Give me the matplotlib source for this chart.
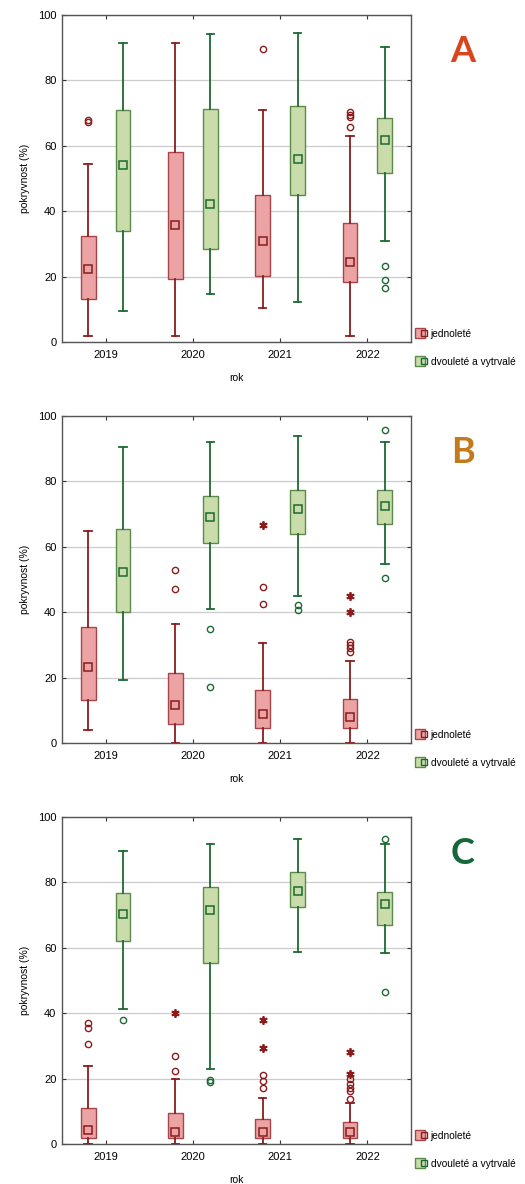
import matplotlib
matplotlib.use("Agg")
import matplotlib.pyplot as plt
from matplotlib.lines import Line2D
from matplotlib.legend_handler import HandlerTuple

plt.rcParams['font.family'] = ['Liberation Sans', 'DejaVu Sans']

years = ['2019', '2020', '2021', '2022']
groups = ['jednoleté', 'dvouleté a vytrvalé']
panels = ['A', 'B', 'C']
panel_colors = {'A': '#d9461e', 'B': '#c27a1c', 'C': '#16683a'}

# per panel, per group: whisker low, q1, median, q3, whisker high (one value per year)
stats = {
    'A': {
        'jednoleté': dict(lo=[1.8, 1.8, 10.4, 1.8], q1=[13.2, 19.2, 20.1, 18.5],
                          med=[22.3, 35.7, 30.8, 24.6], q3=[32.3, 58.2, 45.0, 36.5],
                          hi=[54.4, 91.3, 70.9, 63.1]),
        'dvouleté a vytrvalé': dict(lo=[9.4, 14.8, 12.1, 30.9], q1=[33.8, 28.3, 45.0, 51.8],
                                    med=[54.1, 42.1, 56.1, 61.7], q3=[70.8, 71.4, 72.2, 68.6],
                                    hi=[91.5, 94.2, 94.4, 90.1]),
    },
    'B': {
        'jednoleté': dict(lo=[3.9, 0.0, 0.0, 0.0], q1=[13.0, 5.8, 4.7, 4.7],
                          med=[23.2, 11.6, 8.9, 8.0], q3=[35.5, 21.4, 16.2, 13.6],
                          hi=[64.7, 36.3, 30.6, 25.0]),
        'dvouleté a vytrvalé': dict(lo=[19.3, 41.0, 44.9, 54.8], q1=[40.1, 61.1, 63.8, 66.9],
                                    med=[52.2, 69.0, 71.6, 72.6], q3=[65.5, 75.4, 77.5, 77.4],
                                    hi=[90.5, 92.2, 93.8, 92.2]),
    },
    'C': {
        'jednoleté': dict(lo=[0.0, 0.0, 0.0, 0.0], q1=[1.7, 1.7, 1.7, 1.7],
                          med=[4.3, 3.8, 3.8, 3.8], q3=[11.1, 9.5, 7.7, 6.6],
                          hi=[24.0, 19.8, 14.1, 12.4]),
        'dvouleté a vytrvalé': dict(lo=[41.4, 23.0, 58.6, 58.3], q1=[62.2, 55.5, 72.5, 67.0],
                                    med=[70.4, 71.6, 77.3, 73.4], q3=[76.8, 78.7, 83.1, 77.0],
                                    hi=[89.7, 91.6, 93.2, 91.8]),
    },
}

# outliers (circles) per year
outliers = {
    'A': {'jednoleté': [[68.0, 67.4], [], [89.6], [70.2, 69.4, 68.9, 65.8]],
          'dvouleté a vytrvalé': [[], [], [], [23.1, 19.1, 16.4]]},
    'B': {'jednoleté': [[], [52.9, 47.1], [47.6, 42.6], [31.0, 30.1, 29.1, 27.9]],
          'dvouleté a vytrvalé': [[], [34.8, 17.1], [42.3, 40.7], [95.7, 50.4]]},
    'C': {'jednoleté': [[36.9, 35.5, 30.7], [26.8, 22.2], [21.1, 19.3, 17.2],
                        [19.8, 18.3, 17.2, 16.3, 13.7]],
          'dvouleté a vytrvalé': [[38.0], [19.7, 19.0], [], [93.2, 46.4]]},
}

# extremes (asterisks) per year
extremes = {
    'A': {'jednoleté': [[], [], [], []], 'dvouleté a vytrvalé': [[], [], [], []]},
    'B': {'jednoleté': [[], [], [66.8], [44.9, 40.1]], 'dvouleté a vytrvalé': [[], [], [], []]},
    'C': {'jednoleté': [[], [40.1], [38.0, 29.3], [28.0, 21.4]],
          'dvouleté a vytrvalé': [[], [], [], []]},
}

style = {
    'jednoleté': dict(fill='#eba3a3', edge='#a8444a', line='#8a1c1c', offset=-0.2),
    'dvouleté a vytrvalé': dict(fill='#c9dcaa', edge='#5b8a4a', line='#1c6a32', offset=0.2),
}

fig = plt.figure(figsize=(5.25, 11.84), dpi=100)
W, H = 525, 1184
tops = [15, 416, 817]
ax_h = 327

for name, top in zip(panels, tops):
    ax = fig.add_axes([62 / W, 1 - (top + ax_h) / H, 349 / W, ax_h / H])
    for g in groups:
        s = stats[name][g]
        st = style[g]
        pos = [i + st['offset'] for i in range(len(years))]
        bxp_stats = []
        for i in range(len(years)):
            bxp_stats.append(dict(whislo=s['lo'][i], q1=s['q1'][i], med=s['med'][i],
                                  q3=s['q3'][i], whishi=s['hi'][i], fliers=outliers[name][g][i]))
        ax.bxp(bxp_stats, positions=pos, widths=0.17, patch_artist=True,
               boxprops=dict(facecolor=st['fill'], edgecolor=st['edge'], linewidth=1.0),
               whiskerprops=dict(color=st['line'], linewidth=1.3),
               capprops=dict(color=st['line'], linewidth=1.3),
               capwidths=0.085,
               medianprops=dict(linestyle='none'),
               flierprops=dict(marker='o', markersize=4.5, markerfacecolor='none',
                               markeredgecolor=st['line'], markeredgewidth=1.0),
               zorder=3)
        ax.plot(pos, s['med'], 's', ms=5.5, mfc='none', mec=st['line'], mew=1.1, zorder=4)
        for i, ex in enumerate(extremes[name][g]):
            if ex:
                ax.plot([pos[i]] * len(ex), ex, marker=(6, 2, 0), ls='none', ms=6,
                        mec=st['line'], mew=1.3, zorder=4)

    ax.set_xlim(-0.5, 3.5)
    ax.set_ylim(0, 100)
    ax.set_xticks(range(len(years)))
    ax.set_xticklabels(years)
    ax.set_yticks([0, 20, 40, 60, 80, 100])
    ax.yaxis.grid(True, color='#cccccc', linewidth=0.9)
    ax.set_axisbelow(True)
    ax.tick_params(direction='in', top=True, right=True, length=3, width=0.8,
                   labelsize=8, colors='#333333', labelcolor='black')
    ax.tick_params(axis='x', pad=6)
    ax.tick_params(axis='y', pad=4)
    for sp in ax.spines.values():
        sp.set_color('#555555')
        sp.set_linewidth(1.0)
    ax.set_ylabel('pokryvnost (%)', fontsize=7.5, labelpad=6)
    ax.set_xlabel('rok', fontsize=7.5, labelpad=9)

    ax.text(1.149, 0.887, name, transform=ax.transAxes, ha='center', va='center',
            fontsize=26, fontweight='bold', family='Lato', color=panel_colors[name])

    handles = []
    for g in groups:
        st = style[g]
        big = Line2D([], [], ls='none', marker='s', ms=7.5, mfc=st['fill'], mec=st['edge'], mew=1.0)
        small = Line2D([], [], ls='none', marker='s', ms=4, mfc='none', mec=st['line'], mew=1.0)
        handles.append((big, small))
    ax.legend(handles, groups, handler_map={tuple: HandlerTuple(ndivide=None, pad=0)},
              loc='upper left', bbox_to_anchor=(1.0, 0.062), frameon=False, fontsize=7.3,
              handlelength=0.8, handletextpad=0.45, labelspacing=1.75, borderaxespad=0.3)

fig.savefig('out.png', dpi=100)
